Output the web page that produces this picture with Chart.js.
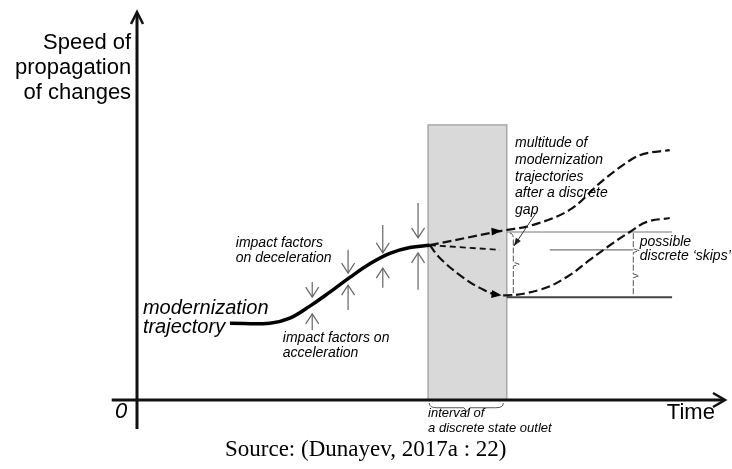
<!DOCTYPE html>
<html>
<head>
<meta charset="utf-8">
<script src="https://cdn.jsdelivr.net/npm/chart.js@4.4.1/dist/chart.umd.min.js"></script>
<style>
  html,body{margin:0;padding:0;background:#fff;}
  #wrap{width:732px;height:469px;position:relative;}
</style>
</head>
<body>
<div id="wrap"><canvas id="chart"></canvas></div>
<script>
// time / speed in abstract units (0..100 on both axes)
const trajectoryX = [15.8, 22.6, 26.0, 29.4, 32.8, 36.2, 39.6, 43.0, 46.4, 49.8];
const trajectoryY = [19.8, 19.8, 21.1, 24.2, 27.8, 31.6, 35.1, 37.8, 39.3, 39.9];

const upperX = [49.8, 62.0, 67.3, 74.1, 78.7, 82.7, 85.5, 90.6];
const upperY = [39.9, 43.6, 45.1, 49.5, 55.9, 60.6, 63.1, 64.4];

const middleX = [49.8, 61.7];
const middleY = [39.9, 38.7];

const lowerX = [49.8, 51.5, 54.9, 58.3, 62.0, 68.5, 73.1, 77.0, 81.0, 83.8, 86.7, 90.6];
const lowerY = [39.9, 36.6, 32.2, 28.9, 27.0, 28.4, 31.7, 36.1, 40.5, 43.3, 45.9, 46.9];

// levels after the gap
const levelFrom = [62.9, 70.2, 62.9];
const levelTo   = [91.0, 84.4, 91.0];
const levelY    = [43.3, 38.7, 26.5];

// discrete interval (grey band)
const intervalStart = 49.5;
const intervalEnd = 62.9;
const intervalTop = 70.9;

// impact factor arrows: x, from, to
const impactX    = [29.8, 35.9, 41.8, 47.8];
const decelFrom  = [30.4, 38.7, 45.1, 50.8];
const decelTo    = [26.5, 32.7, 37.9, 41.8];
const accelFrom  = [18.0, 23.2, 28.9, 28.4];
const accelTo    = [22.2, 29.6, 34.0, 37.9];

const sans = '"Liberation Sans", Arial, sans-serif';
const labels = [
  {t:'Speed of', x:-1.0, y:92.0, size:22, align:'right'},
  {t:'propagation', x:-1.0, y:85.6, size:22, align:'right'},
  {t:'of changes', x:-1.0, y:79.1, size:22, align:'right'},
  {t:'modernization', x:1.0, y:23.7, size:20, italic:true},
  {t:'trajectory', x:1.0, y:18.6, size:20, italic:true},
  {t:'impact factors', x:16.8, y:40.5, size:14, italic:true},
  {t:'on deceleration', x:16.8, y:36.6, size:14, italic:true},
  {t:'impact factors on', x:24.8, y:16.0, size:14, italic:true},
  {t:'acceleration', x:24.8, y:12.1, size:14, italic:true},
  {t:'multitude of', x:64.3, y:66.2, size:14, italic:true},
  {t:'modernization', x:64.3, y:61.9, size:14, italic:true},
  {t:'trajectories', x:64.3, y:57.5, size:14, italic:true},
  {t:'after a discrete', x:64.3, y:53.4, size:14, italic:true},
  {t:'gap', x:64.3, y:49.0, size:14, italic:true},
  {t:'possible', x:85.5, y:40.7, size:14, italic:true},
  {t:'discrete \u2018skips\u2019', x:85.5, y:37.1, size:14, italic:true},
  {t:'interval of', x:49.5, y:-3.4, size:13, italic:true},
  {t:'a discrete state outlet', x:49.5, y:-7.2, size:13, italic:true},
  {t:'Time', x:94.2, y:-3.4, size:22, align:'center'},
  {t:'0', x:-2.7, y:-3.1, size:22, italic:true, align:'center'},
  {t:'Source: (Dunayev, 2017a : 22)', x:38.9, y:-12.9, size:23, align:'center', serif:true}
];

function pts(xs, ys){ return xs.map((x,i)=>({x:x, y:ys[i]})); }

const datasets = [
  {data:pts(trajectoryX, trajectoryY), borderColor:'#000', borderWidth:3.5, tension:0.4},
  {data:pts(upperX, upperY), borderColor:'#111', borderWidth:2.2, borderDash:[9,4], cubicInterpolationMode:'monotone'},
  {data:pts(middleX, middleY), borderColor:'#111', borderWidth:1.8, borderDash:[6,4]},
  {data:pts(lowerX, lowerY), borderColor:'#111', borderWidth:2.2, borderDash:[9,4], tension:0.4}
];
levelY.forEach((y,i)=>{
  datasets.push({data:[{x:levelFrom[i], y:y},{x:levelTo[i], y:y}],
    borderColor: i===2 ? '#444' : '#777', borderWidth: i===2 ? 2 : 1.2});
});
datasets.forEach(d=>{ d.showLine = true; d.pointRadius = 0; d.fill = false; });

function arrowHead(ctx, x, y, ang, len, half, filled){
  ctx.save();
  ctx.translate(x, y); ctx.rotate(ang);
  ctx.beginPath();
  ctx.moveTo(-len, -half); ctx.lineTo(0, 0); ctx.lineTo(-len, half);
  if(filled){ ctx.closePath(); ctx.fill(); } else ctx.stroke();
  ctx.restore();
}

const diagram = {
  id:'diagram',
  beforeDatasetsDraw(chart){
    const {ctx, scales:{x, y}} = chart;
    ctx.save();
    const l = x.getPixelForValue(intervalStart), r = x.getPixelForValue(intervalEnd);
    const t = y.getPixelForValue(intervalTop), b = y.getPixelForValue(0);
    ctx.fillStyle = '#d9d9d9';
    ctx.fillRect(l, t, r-l, b-t);
    ctx.strokeStyle = '#999'; ctx.lineWidth = 1.2;
    ctx.strokeRect(l, t, r-l, b-t);
    ctx.restore();
  },
  afterDatasetsDraw(chart){
    const {ctx, scales:{x, y}} = chart;
    const X = v => x.getPixelForValue(v), Y = v => y.getPixelForValue(v);
    ctx.save();
    // axes
    ctx.strokeStyle = '#111'; ctx.lineWidth = 3;
    ctx.beginPath();
    ctx.moveTo(X(-4.3), Y(0)); ctx.lineTo(X(100)-2, Y(0));
    ctx.moveTo(X(0), Y(-7.5)); ctx.lineTo(X(0), Y(100)+2);
    ctx.stroke();
    ctx.lineWidth = 2.5;
    arrowHead(ctx, X(100), Y(0), 0, 12, 7, false);
    arrowHead(ctx, X(0), Y(100), -Math.PI/2, 12, 6, false);

    // impact factor arrows
    ctx.strokeStyle = '#666'; ctx.lineWidth = 1.2;
    impactX.forEach((v,i)=>{
      ctx.beginPath();
      ctx.moveTo(X(v), Y(decelFrom[i])); ctx.lineTo(X(v), Y(decelTo[i]));
      ctx.moveTo(X(v), Y(accelFrom[i])); ctx.lineTo(X(v), Y(accelTo[i]));
      ctx.stroke();
      arrowHead(ctx, X(v), Y(decelTo[i]), Math.PI/2, 10, 6.5, false);
      arrowHead(ctx, X(v), Y(accelTo[i]), -Math.PI/2, 10, 6.5, false);
    });

    // arrowheads on the branching trajectories
    ctx.fillStyle = '#000';
    [[upperX, upperY, 1], [lowerX, lowerY, 4]].forEach(([xs, ys, k])=>{
      const ang = Math.atan2(Y(ys[k])-Y(ys[k-1]), X(xs[k])-X(xs[k-1]));
      arrowHead(ctx, X(xs[k]), Y(ys[k]), ang*0.4, 10, 4, true);
    });

    // "gap" pointer
    ctx.strokeStyle = '#333'; ctx.lineWidth = 1;
    ctx.beginPath(); ctx.moveTo(X(68.0), Y(48.5)); ctx.lineTo(X(64.1), Y(39.7)); ctx.stroke();
    ctx.fillStyle = '#222';
    arrowHead(ctx, X(64.1), Y(39.7), Math.atan2(Y(39.7)-Y(48.5), X(64.1)-X(68.0)), 8, 3, true);

    // braces
    ctx.strokeStyle = '#555'; ctx.lineWidth = 1;
    ctx.setLineDash([6,2]);
    ctx.beginPath();
    ctx.moveTo(X(63.4), Y(43.0)); ctx.quadraticCurveTo(X(64.0), Y(43.0), X(64.0), Y(41.5));
    ctx.lineTo(X(64.0), Y(35.5)); ctx.lineTo(X(65.0), Y(35.0)); ctx.lineTo(X(64.0), Y(34.5));
    ctx.lineTo(X(64.0), Y(27.5)); ctx.quadraticCurveTo(X(64.0), Y(26.8), X(63.4), Y(26.8));
    ctx.moveTo(X(84.4), Y(43.0)); ctx.lineTo(X(84.4), Y(39.0)); ctx.lineTo(X(85.4), Y(38.5));
    ctx.lineTo(X(84.4), Y(38.0)); ctx.lineTo(X(84.4), Y(32.5)); ctx.lineTo(X(85.4), Y(32.0));
    ctx.lineTo(X(84.4), Y(31.5)); ctx.lineTo(X(84.4), Y(26.8));
    ctx.stroke();
    ctx.setLineDash([]);
    ctx.beginPath();
    ctx.moveTo(X(intervalStart+0.2), Y(-0.8)); ctx.quadraticCurveTo(X(intervalStart+0.2), Y(-2.0), X(intervalStart+1.5), Y(-2.0));
    ctx.lineTo(X(55.6), Y(-2.0)); ctx.lineTo(X(56.1), Y(-3.0)); ctx.lineTo(X(56.6), Y(-2.0));
    ctx.lineTo(X(intervalEnd-1.9), Y(-2.0)); ctx.quadraticCurveTo(X(intervalEnd-0.6), Y(-2.0), X(intervalEnd-0.6), Y(-0.8));
    ctx.stroke();

    // texts
    ctx.fillStyle = '#000'; ctx.textBaseline = 'middle';
    labels.forEach(lb=>{
      ctx.font = (lb.italic ? 'italic ' : '') + lb.size + 'px ' + (lb.serif ? '"Liberation Serif", "Times New Roman", serif' : sans);
      ctx.textAlign = lb.align || 'left';
      ctx.fillText(lb.t, X(lb.x), Y(lb.y));
    });
    ctx.restore();
  }
};

new Chart(document.getElementById('chart'), {
  type:'scatter',
  data:{datasets:datasets},
  options:{
    responsive:true, maintainAspectRatio:false, animation:false,
    layout:{padding:{left:137, right:7, top:12, bottom:69}},
    plugins:{legend:{display:false}, tooltip:{enabled:false}},
    scales:{
      x:{type:'linear', min:0, max:100, display:false},
      y:{type:'linear', min:0, max:100, display:false}
    }
  },
  plugins:[diagram]
});
</script>
</body>
</html>
